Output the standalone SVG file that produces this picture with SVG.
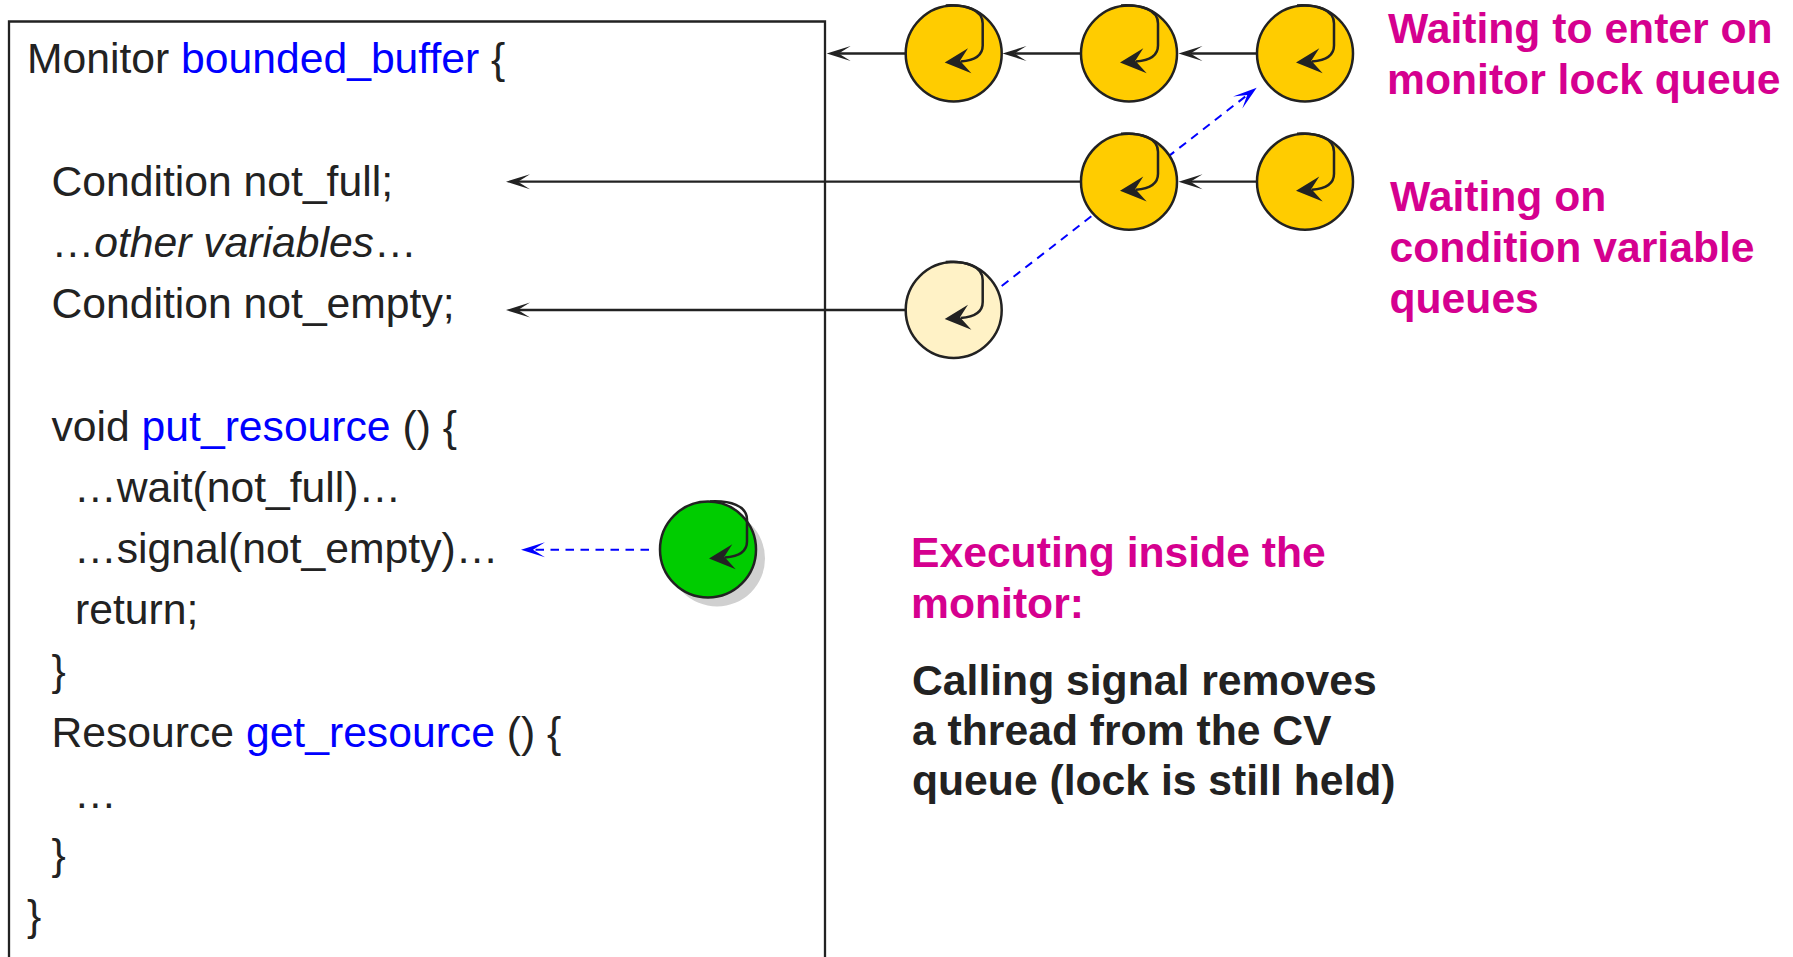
<svg xmlns="http://www.w3.org/2000/svg" xmlns:xlink="http://www.w3.org/1999/xlink" width="1793" height="957" viewBox="0 0 1793 957">
<style>
.code{font-family:"Liberation Sans",Arial,sans-serif;font-size:42.67px;fill:#222}
.kw{fill:#0000ff}
.it{font-style:italic}
.lbl{font-family:"Liberation Sans",Arial,sans-serif;font-weight:bold;font-size:42.67px;fill:#d5008f}
.exe{font-family:"Liberation Sans",Arial,sans-serif;font-weight:bold;font-size:42.67px}
.th{stroke:#222;stroke-width:2.5}
.glyph{fill:none;stroke:#222;stroke-width:2.5}
.conn{stroke:#222;stroke-width:2.3;fill:none}
.dash{stroke:#0000ff;stroke-width:2;fill:none;stroke-dasharray:8.5 6.5}
</style>
<defs>
<marker id="ah" viewBox="0 -8 25 16" refX="12" refY="0" markerWidth="25" markerHeight="16" markerUnits="userSpaceOnUse" orient="auto">
<path d="M24,0 L0,-7.5 L12,0 L0,7.5 Z" fill="#222"/>
</marker>
<marker id="ahb" viewBox="0 -8 25 16" refX="12" refY="0" markerWidth="25" markerHeight="16" markerUnits="userSpaceOnUse" orient="auto">
<path d="M24,0 L0,-7.5 L12,0 L0,7.5 Z" fill="#0000ff"/>
</marker>
<g id="glyph">
<path class="glyph" d="M-8,-48 C12,-49 29,-44 29,-30 L29,-8 C29,2 20,7 7,8"/>
<path d="M-9,9 L14.3,-5.3 L6.3,7.3 L17.7,19.7 Z" fill="#222"/>
</g>
</defs>
<rect width="1793" height="957" fill="#fff"/>

<g id="monitor">
<path d="M9,965 V21.5 H825 V965" fill="none" stroke="#222" stroke-width="2.3"/>
<text class="code" x="27" y="73.3">Monitor <tspan class="kw">bounded_buffer</tspan> {</text>
<text class="code" x="51.5" y="195.7">Condition not_full;</text>
<text class="code" x="51.5" y="256.9">…<tspan class="it">other variables</tspan>…</text>
<text class="code" x="51.5" y="318.1">Condition not_empty;</text>
<text class="code" x="51.5" y="440.5">void <tspan class="kw">put_resource</tspan> () {</text>
<text class="code" x="74" y="501.7">…wait(not_full)…</text>
<text class="code" x="74" y="562.9">…signal(not_empty)…</text>
<text class="code" x="75" y="624.1">return;</text>
<text class="code" x="51.5" y="685.3">}</text>
<text class="code" x="51.5" y="746.5">Resource <tspan class="kw">get_resource</tspan> () {</text>
<text class="code" x="74" y="807.7">…</text>
<text class="code" x="51.5" y="868.9">}</text>
<text class="code" x="27" y="930.1">}</text>
</g>

<g id="connectors">
<line class="conn" x1="905.7" y1="53.5" x2="838.7" y2="53.5" marker-end="url(#ah)"/>
<line class="conn" x1="1081" y1="53.5" x2="1014.5" y2="53.5" marker-end="url(#ah)"/>
<line class="conn" x1="1257" y1="53.5" x2="1190.5" y2="53.5" marker-end="url(#ah)"/>
<line class="conn" x1="1257" y1="181.7" x2="1190.5" y2="181.7" marker-end="url(#ah)"/>
<line class="conn" x1="1081" y1="181.7" x2="518" y2="181.7" marker-end="url(#ah)"/>
<line class="conn" x1="905.7" y1="310" x2="518" y2="310" marker-end="url(#ah)"/>
<line class="dash" x1="1001.7" y1="286" x2="1247.2" y2="95.1" marker-end="url(#ahb)"/>
<line class="dash" x1="649" y1="549.7" x2="533" y2="549.7" marker-end="url(#ahb)"/>
</g>

<g id="t-enter-1"><circle class="th" cx="953.7" cy="53.5" r="48" fill="#ffcc00"/><use xlink:href="#glyph" x="953.7" y="53.5"/></g>
<g id="t-enter-2"><circle class="th" cx="1129" cy="53.5" r="48" fill="#ffcc00"/><use xlink:href="#glyph" x="1129" y="53.5"/></g>
<g id="t-enter-3"><circle class="th" cx="1305" cy="53.5" r="48" fill="#ffcc00"/><use xlink:href="#glyph" x="1305" y="53.5"/></g>
<g id="t-full-1"><circle class="th" cx="1129" cy="181.7" r="48" fill="#ffcc00"/><use xlink:href="#glyph" x="1129" y="181.7"/></g>
<g id="t-full-2"><circle class="th" cx="1305" cy="181.7" r="48" fill="#ffcc00"/><use xlink:href="#glyph" x="1305" y="181.7"/></g>
<g id="t-empty-1"><circle class="th" cx="953.7" cy="310" r="48" fill="#fff2c6"/><use xlink:href="#glyph" x="953.7" y="310"/></g>
<g id="t-running">
<circle cx="717" cy="558.5" r="48" fill="#d0d0d0"/>
<circle class="th" cx="708" cy="549.5" r="48" fill="#00cc00"/>
<use xlink:href="#glyph" x="718" y="549.5"/>
</g>

<g id="label-enter">
<text class="lbl" x="1388" y="43.3">Waiting to enter on</text>
<text class="lbl" x="1387" y="94.3">monitor lock queue</text>
</g>
<g id="label-cv">
<text class="lbl" x="1390" y="210.7">Waiting on</text>
<text class="lbl" x="1389.5" y="261.7">condition variable</text>
<text class="lbl" x="1389.5" y="312.7">queues</text>
</g>
<g id="label-exec">
<text class="exe" x="911" y="566.5" fill="#d5008f">Executing inside the</text>
<text class="exe" x="911" y="618" fill="#d5008f">monitor:</text>
<text class="exe" x="912" y="695" fill="#222">Calling signal removes</text>
<text class="exe" x="912" y="745" fill="#222">a thread from the CV</text>
<text class="exe" x="912" y="795" fill="#222">queue (lock is still held)</text>
</g>
</svg>
